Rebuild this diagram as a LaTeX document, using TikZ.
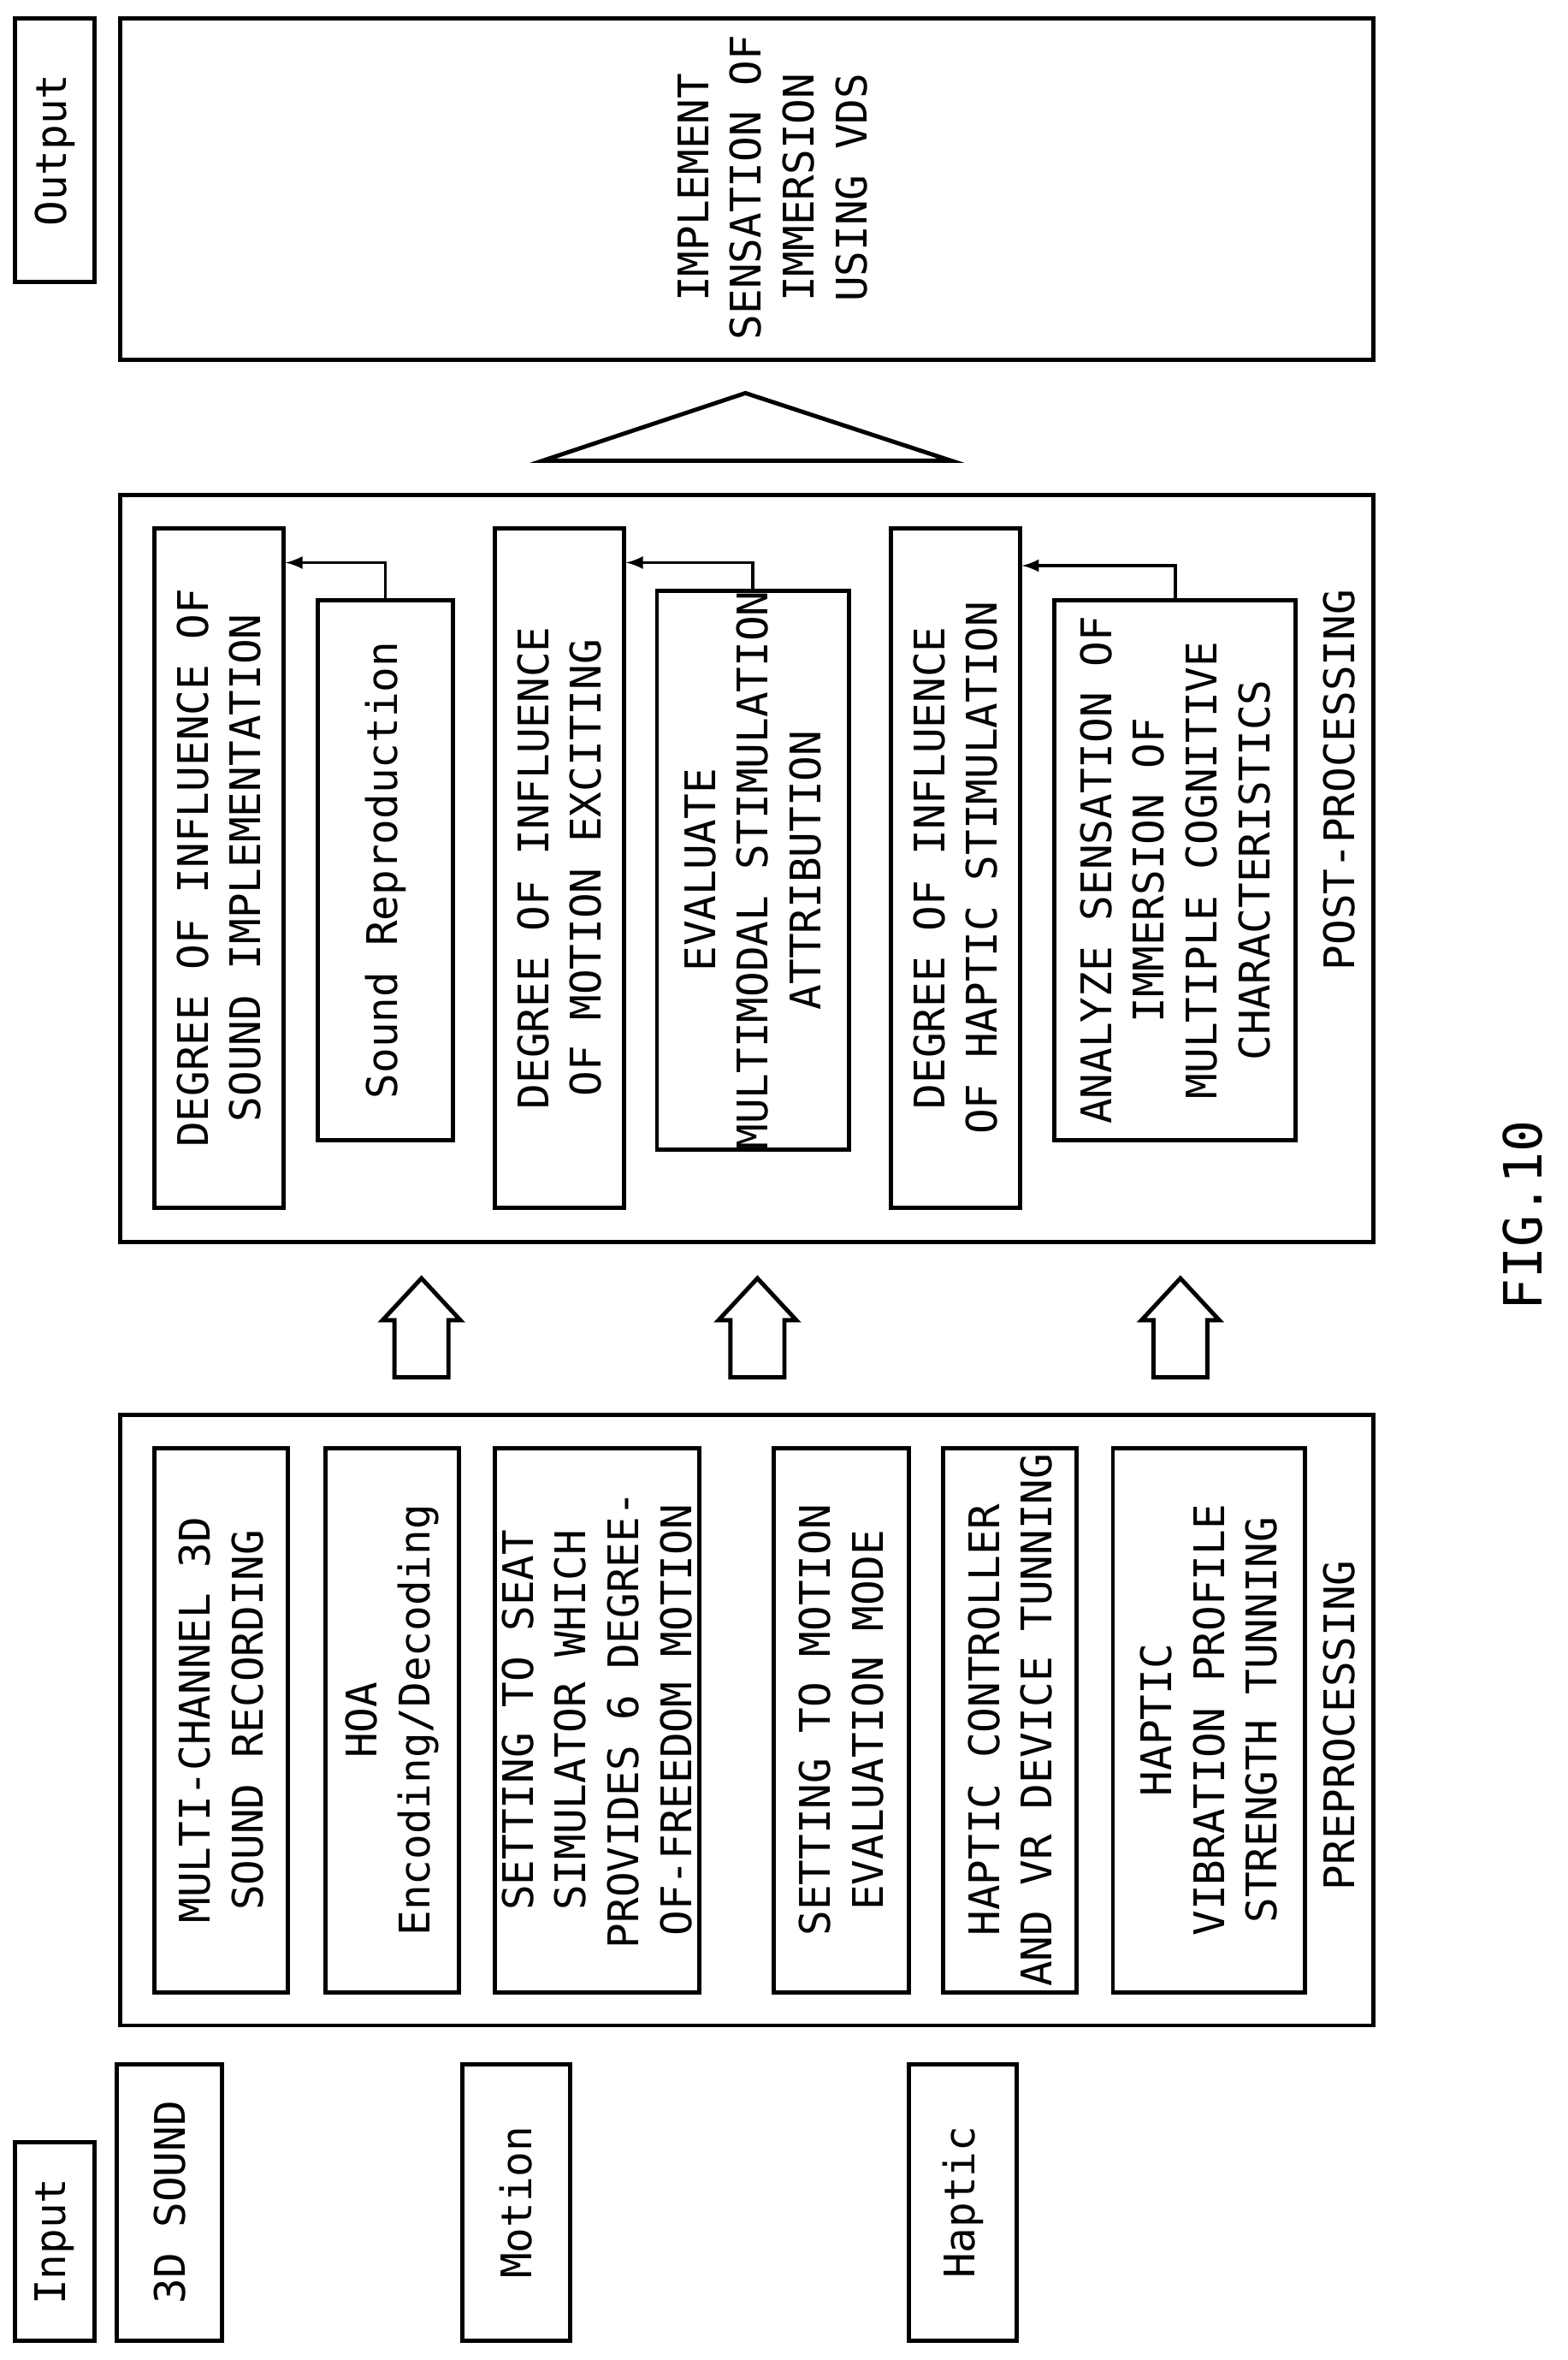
\documentclass[tikz,border=0pt]{standalone}
\usepackage{fontspec}
\setmainfont{DejaVu Sans Mono}
\begin{document}
\begin{tikzpicture}[x=0.02cm,y=-0.02cm,
  box/.style={draw,line width=1.6pt,rotate=90,inner sep=0pt,align=center,font=\fontsize{16}{20}\selectfont},
  lbl/.style={rotate=90,inner sep=0pt,align=center,font=\fontsize{16}{20}\selectfont},
  arr/.style={line width=1.2pt,-latex}]
\useasboundingbox (0,0) rectangle (1045,1573);
% left labels
\node[box,minimum width=2.64cm,minimum height=1.06cm] (in) at (36.5,1494) {Input};
\node[box,minimum width=3.68cm,minimum height=1.4cm] (snd) at (113,1468) {3D SOUND};
\node[box,minimum width=3.68cm,minimum height=1.44cm] (mot) at (344,1468) {Motion};
\node[box,minimum width=3.68cm,minimum height=1.44cm] (hap) at (642,1468) {Haptic};
\node[box,minimum width=3.52cm,minimum height=1.06cm] (out) at (36.5,100) {Output};
% preprocessing
\node[box,minimum width=8.14cm,minimum height=16.72cm] (pre) at (498,1146.5) {};
\node[box,minimum width=7.26cm,minimum height=1.78cm] (p1) at (147.5,1146.5) {MULTI-CHANNEL 3D\\SOUND RECORDING};
\node[box,minimum width=7.26cm,minimum height=1.78cm] (p2) at (261.5,1146.5) {HOA\\Encoding/Decoding};
\node[box,minimum width=7.26cm,minimum height=2.72cm] (p3) at (398,1146.5) {SETTING TO SEAT\\SIMULATOR WHICH\\PROVIDES 6 DEGREE-\\OF-FREEDOM MOTION};
\node[box,minimum width=7.26cm,minimum height=1.8cm] (p4) at (561,1146.5) {SETTING TO MOTION\\EVALUATION MODE};
\node[box,minimum width=7.26cm,minimum height=1.78cm] (p5) at (673.5,1146.5) {HAPTIC CONTROLLER\\AND VR DEVICE TUNNING};
\node[box,minimum width=7.26cm,minimum height=2.56cm] (p6) at (806,1146.5) {HAPTIC\\VIBRATION PROFILE\\STRENGTH TUNNING};
\node[lbl] (prel) at (893,1150) {PREPROCESSING};
% block arrows
\foreach \x in {281,505,787}{
  \draw[line width=1.6pt] (\x-18,918)--(\x-18,880)--(\x-26,880)--(\x,852)--(\x+26,880)--(\x+18,880)--(\x+18,918)--cycle;}
% postprocessing
\node[box,minimum width=9.96cm,minimum height=16.72cm] (post) at (498,579) {};
\node[box,minimum width=9.06cm,minimum height=1.72cm] (d1) at (146,578.5) {DEGREE OF INFLUENCE OF\\SOUND IMPLEMENTATION};
\node[box,minimum width=7.2cm,minimum height=1.8cm] (s1) at (257,580) {Sound Reproduction};
\node[box,minimum width=9.06cm,minimum height=1.72cm] (d2) at (373,578.5) {DEGREE OF INFLUENCE\\OF MOTION EXCITING};
\node[box,minimum width=7.2cm,minimum height=2.56cm] (s2) at (502,580) {EVALUATE\\MULTIMODAL STIMULATION\\ATTRIBUTION};
\node[box,minimum width=9.06cm,minimum height=1.72cm] (d3) at (637,578.5) {DEGREE OF INFLUENCE\\OF HAPTIC STIMULATION};
\node[box,minimum width=7.2cm,minimum height=3.22cm] (s3) at (783.5,580) {ANALYZE SENSATION OF\\IMMERSION OF\\MULTIPLE COGNITIVE\\CHARACTERISTICS};
\node[lbl] (postl) at (893,520) {POST-PROCESSING};
\coordinate (k1) at (0,375);
\coordinate (k2) at (0,377);
\draw[arr] (s1.east) |- (d1.south |- k1);
\draw[arr] (s2.east) |- (d2.south |- k1);
\draw[arr] (s3.east) |- (d3.south |- k2);
% triangle
\draw[line width=1.6pt] (497,262)--(634,307)--(362,307)--cycle;
% output
\node[box,minimum width=4.56cm,minimum height=16.72cm] (res) at (498,126) {};
\node[lbl] (rest) at (515,125) {IMPLEMENT\\SENSATION OF\\IMMERSION\\USING VDS};
\node[lbl,font=\fontsize{20}{24}\selectfont] (fig) at (1015,810) {FIG.10};
\end{tikzpicture}
\end{document}
